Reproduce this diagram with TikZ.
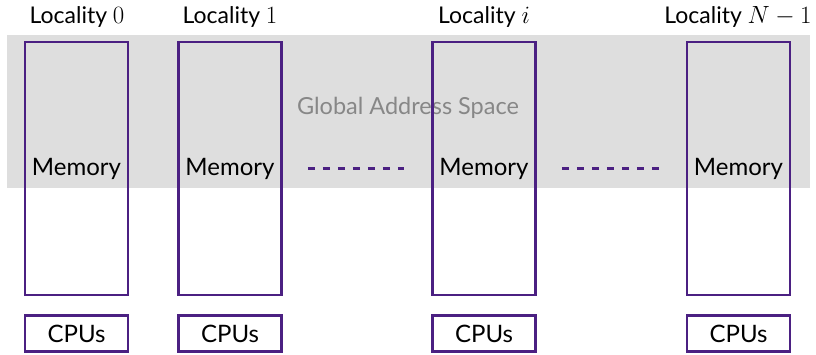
\documentclass[tikz,border=0pt]{standalone}
\usepackage{fontspec}
\setmainfont{Lato}
\usetikzlibrary{positioning}

\definecolor{locpurple}{RGB}{75,32,130}
\definecolor{gasgray}{RGB}{222,222,222}
\definecolor{gastext}{RGB}{135,135,135}

\begin{document}
\begin{tikzpicture}[x=1pt, y=-1pt,
    memory/.style={draw=locpurple, line width=2.6pt, rectangle, inner sep=0pt,
        minimum width=103pt, minimum height=253pt, font=\fontsize{24}{28}\selectfont},
    cpu/.style={draw=locpurple, line width=2.6pt, rectangle, inner sep=0pt,
        minimum width=103pt, minimum height=36pt, font=\fontsize{24}{28}\selectfont},
    locality/.style={font=\fontsize{23}{28}\selectfont},
    ellipsis/.style={locpurple, line width=3pt, dash pattern=on 7pt off 8pt}
]
\useasboundingbox (0,0) rectangle (816,354);

% Global address space
\fill[gasgray] (7,35) rectangle (810,188);
\node[text=gastext, font=\fontsize{23.5}{28}\selectfont] (gas) at (408,108) {Global Address Space};

% Memories
\node[memory] (m0) at (76.5,168.5) {Memory};
\node[memory] (m1) at (230,168.5) {Memory};
\node[memory] (mi) at (484,168.5) {Memory};
\node[memory] (mn) at (738.5,168.5) {Memory};

% CPUs
\node[cpu] (c0) at (76.5,333.5) {CPUs};
\node[cpu] (c1) at (230,333.5) {CPUs};
\node[cpu] (ci) at (484,333.5) {CPUs};
\node[cpu] (cn) at (738.5,333.5) {CPUs};

% Localities
\node[locality] (l0) at (77,17) {Locality $0$};
\node[locality] (l1) at (230,17) {Locality $1$};
\node[locality] (li) at (484,17) {Locality $i$};
\node[locality] (ln) at (738,17) {Locality $N-1$};

% Ellipses
\draw[ellipsis] ([xshift=25pt]m1.east) -- ([xshift=-27pt]mi.west);
\draw[ellipsis] ([xshift=25pt]mi.east) -- ([xshift=-27pt]mn.west);

\end{tikzpicture}
\end{document}
